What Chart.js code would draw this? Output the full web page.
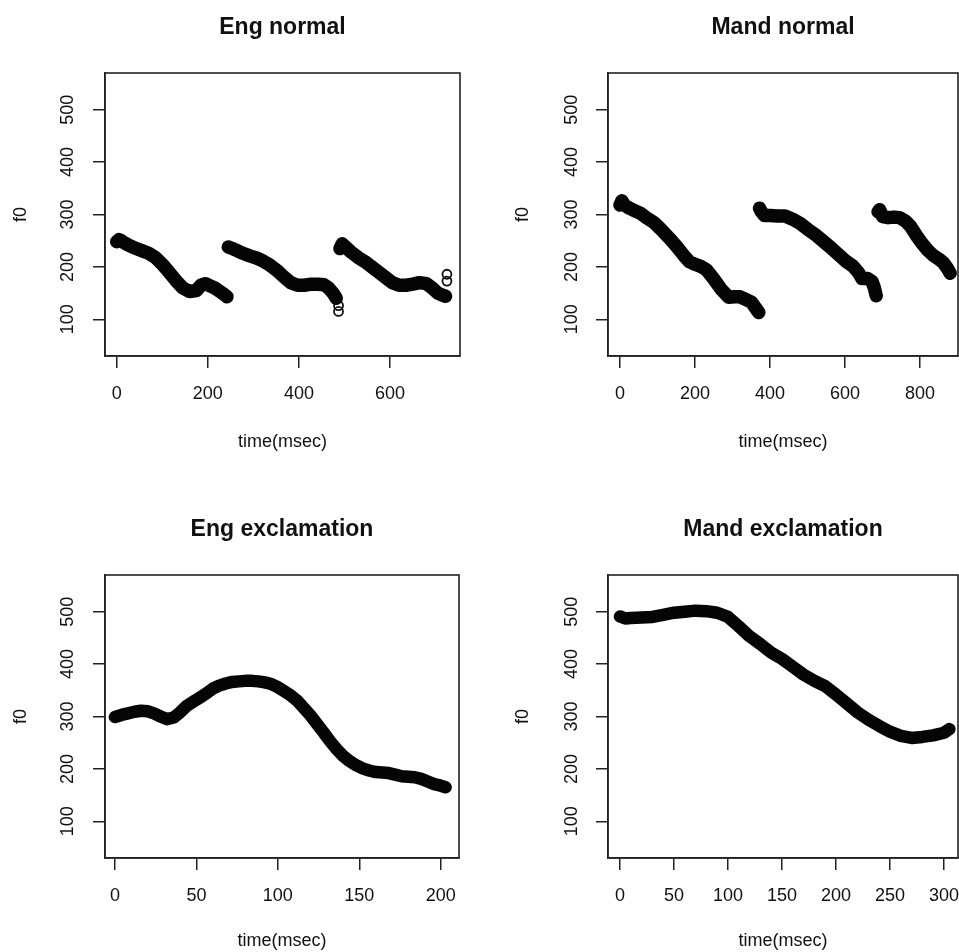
<!DOCTYPE html>
<html>
<head>
<meta charset="utf-8">
<script src="https://cdn.jsdelivr.net/npm/chart.js@4.4.0/dist/chart.umd.min.js"></script>
<style>
html, body { margin: 0; padding: 0; background: #fff; overflow: hidden; }
canvas { position: absolute; left: 0; top: 0; }
</style>
</head>
<body>
<canvas id="engNormal" width="959" height="952"></canvas>
<canvas id="mandNormal" width="959" height="952"></canvas>
<canvas id="engExcl" width="959" height="952"></canvas>
<canvas id="mandExcl" width="959" height="952"></canvas>
<script>
// f0 contours, null = gap between syllables
let engNormalTime = [0,5,10,15,25,40,55,70,85,100,115,130,145,160,175,185,195,205,215,225,235,242, null,
    245,252,262,277,292,307,322,337,352,367,382,397,412,427,442,455,465,475,482, null,
    490,495,500,515,530,545,560,575,590,605,620,635,650,665,680,695,705,715,722]
let engNormalF0 = [248,252,250,247,242,236,231,226,218,205,190,174,160,153,155,165,168,164,160,154,148,143, null,
    238,236,232,226,221,217,211,203,193,181,170,165,165,167,167,166,160,150,140, null,
    235,244,240,228,218,210,200,190,180,170,165,165,167,170,168,158,150,146,144]
let engNormalOutTime = [487,487,725,725]
let engNormalOutF0 = [126,115,186,173]

let mandNormalTime = [0,5,12,25,40,55,70,90,110,130,150,170,185,200,215,230,250,270,290,305,320,335,350,360,370, null,
    372,376,385,400,420,440,460,480,500,520,540,560,580,600,620,635,645,660,672,678,683, null,
    688,692,700,715,730,745,760,775,790,805,820,835,850,862,872,880]
let mandNormalF0 = [318,326,318,312,307,302,294,285,271,256,240,222,210,205,201,195,177,157,142,143,143,138,133,123,113, null,
    312,306,298,298,297,297,291,283,272,262,250,238,225,212,202,190,178,178,172,160,145, null,
    305,309,296,294,295,294,288,277,260,245,232,222,215,208,198,188]

let engExclTime = [0,4,8,12,16,20,24,28,32,36,40,44,48,52,56,60,64,68,72,76,80,84,88,92,96,100,
    104,108,112,116,120,124,128,132,136,140,144,148,152,156,160,164,168,172,176,180,184,188,192,196,200,203]
let engExclF0 = [299,303,306,309,311,310,306,300,295,298,308,320,328,336,344,353,359,363,366,367,368,368,367,365,362,356,
    348,340,330,316,302,286,270,253,238,225,215,207,201,197,194,193,192,189,186,185,184,181,176,171,168,165]

let mandExclTime = [0,5,10,20,30,40,50,60,70,80,90,100,110,120,130,140,150,160,170,180,190,200,210,220,230,240,250,260,270,280,290,300,305]
let mandExclF0 = [491,487,488,489,490,494,498,500,502,501,498,490,472,453,438,422,410,395,380,368,358,342,325,308,294,282,271,263,259,261,264,269,276]

// tick labels
let yTicks = [100,200,300,400,500]
let engNormalXTicks = [0,200,400,600]
let mandNormalXTicks = [0,200,400,600,800]
let engExclXTicks = [0,50,100,150,200]
let mandExclXTicks = [0,50,100,150,200,250,300]

let fontFam = '"Liberation Sans", Arial, Helvetica, sans-serif'
let ink = '#111'

// box round the plot region, like R's box()
let boxPlugin = {
    id: 'box',
    afterDatasetsDraw(chart) {
        let a = chart.chartArea, ctx = chart.ctx
        ctx.save()
        ctx.strokeStyle = '#222'
        ctx.lineWidth = 1.6
        ctx.strokeRect(a.left, a.top, a.right - a.left, a.bottom - a.top)
        ctx.restore()
    }
}

function toPoints(xs, ys) {
    return xs.map(function(x, i) { return {x: x, y: ys[i]} })
}

function panel(id, p) {
    let datasets = [{
        data: toPoints(p.time, p.f0),
        showLine: true,
        spanGaps: false,
        borderColor: '#050505',
        borderWidth: p.band,
        borderCapStyle: 'round',
        borderJoinStyle: 'round',
        pointRadius: 0,
        tension: 0
    }]
    if (p.outTime) {
        datasets.push({
            data: toPoints(p.outTime, p.outF0),
            showLine: false,
            pointRadius: 4.5,
            pointBorderWidth: 1.8,
            pointBorderColor: '#111',
            pointBackgroundColor: 'rgba(0,0,0,0)'
        })
    }
    return new Chart(document.getElementById(id), {
        type: 'scatter',
        data: { datasets: datasets },
        plugins: [boxPlugin],
        options: {
            responsive: false,
            animation: false,
            layout: { padding: p.pad },
            plugins: {
                legend: { display: false },
                tooltip: { enabled: false },
                title: {
                    display: true,
                    text: p.title,
                    fullSize: false,
                    color: ink,
                    font: { family: fontFam, size: 23, weight: 'bold', lineHeight: 1.2 },
                    padding: { top: 13.4, bottom: 32 }
                }
            },
            scales: {
                x: {
                    type: 'linear',
                    min: p.xMin,
                    max: p.xMax,
                    afterBuildTicks: function(s) { s.ticks = p.xTicks.map(function(v) { return {value: v} }) },
                    afterFit: function(s) {
                        s.height = p.xH
                        s.paddingLeft = 0
                        s.paddingRight = 0
                    },
                    grid: { drawOnChartArea: false, drawTicks: true, tickLength: 12, color: '#222', lineWidth: 1.5 },
                    border: { display: true, color: '#222', width: 1.5 },
                    ticks: { color: ink, padding: 15, maxRotation: 0, font: { family: fontFam, size: 18 } },
                    title: {
                        display: true, text: 'time(msec)', color: ink,
                        font: { family: fontFam, size: 18 },
                        padding: { top: 0, bottom: p.xTitlePad }
                    }
                },
                y: {
                    type: 'linear',
                    min: 30,
                    max: 570,
                    afterBuildTicks: function(s) { s.ticks = yTicks.map(function(v) { return {value: v} }) },
                    afterFit: function(s) {
                        s.width = p.yW
                        s.paddingTop = 0
                        s.paddingBottom = 0
                    },
                    grid: { drawOnChartArea: false, drawTicks: true, tickLength: 12, color: '#222', lineWidth: 1.5 },
                    border: { display: true, color: '#222', width: 1.5 },
                    ticks: { color: ink, padding: p.yTickPad, minRotation: 90, maxRotation: 90, crossAlign: 'center',
                        font: { family: fontFam, size: 18 } },
                    title: {
                        display: true, text: 'f0', color: ink,
                        font: { family: fontFam, size: 18 },
                        padding: { top: p.yTitlePad, bottom: 0 }
                    }
                }
            }
        }
    })
}

panel('engNormal', {
    title: 'Eng normal', time: engNormalTime, f0: engNormalF0,
    outTime: engNormalOutTime, outF0: engNormalOutF0,
    xTicks: engNormalXTicks, xMin: -25.7, xMax: 753.7,
    pad: { left: 0, right: 499, top: 0, bottom: 496 },
    xH: 100, xTitlePad: 3, yW: 105, yTickPad: 10, yTitlePad: 10.5, band: 13.5
})
panel('mandNormal', {
    title: 'Mand normal', time: mandNormalTime, f0: mandNormalF0,
    xTicks: mandNormalXTicks, xMin: -32, xMax: 901,
    pad: { left: 500, right: 1, top: 0, bottom: 496 },
    xH: 100, xTitlePad: 3, yW: 108, yTickPad: 9, yTitlePad: 12.5, band: 13.5
})
panel('engExcl', {
    title: 'Eng exclamation', time: engExclTime, f0: engExclF0,
    xTicks: engExclXTicks, xMin: -6.1, xMax: 211.2,
    pad: { left: 0, right: 500, top: 502, bottom: 0 },
    xH: 94, xTitlePad: 0, yW: 105, yTickPad: 10, yTitlePad: 10.5, band: 12.5
})
panel('mandExcl', {
    title: 'Mand exclamation', time: mandExclTime, f0: mandExclF0,
    xTicks: mandExclXTicks, xMin: -11.1, xMax: 313,
    pad: { left: 500, right: 1, top: 502, bottom: 0 },
    xH: 94, xTitlePad: 0, yW: 108, yTickPad: 9, yTitlePad: 12.5, band: 12.5
})
</script>
</body>
</html>
